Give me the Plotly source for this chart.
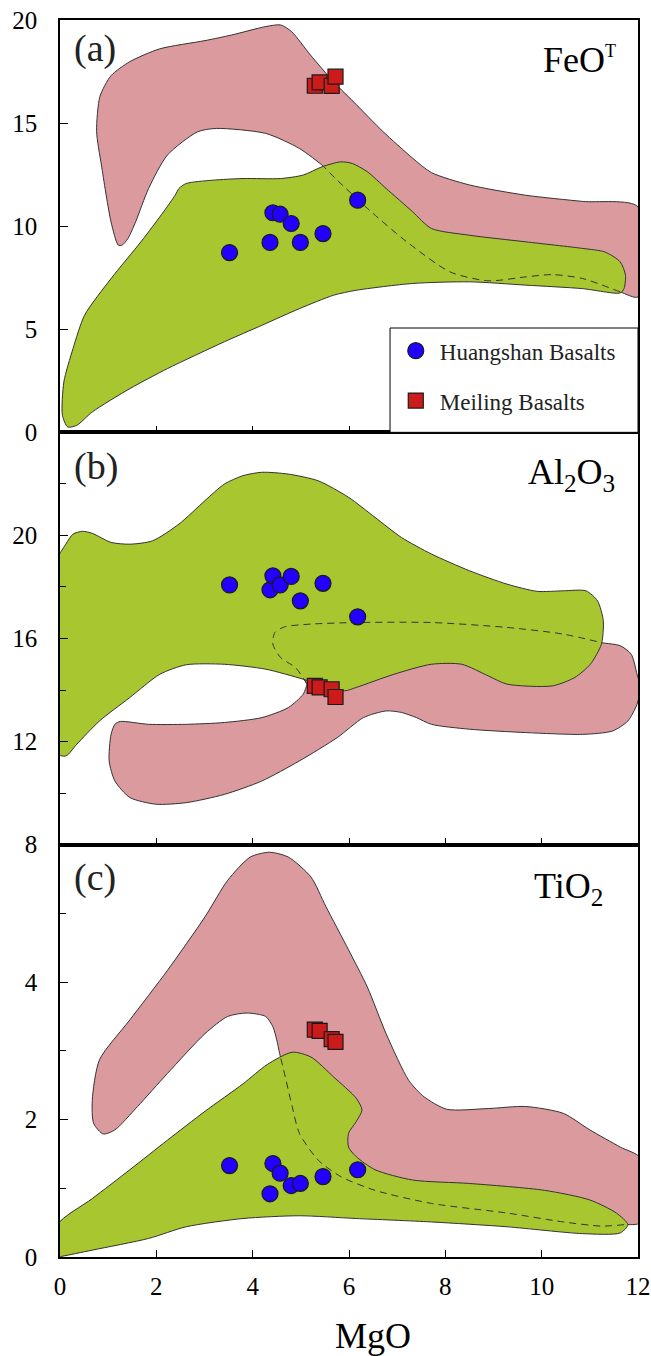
import plotly.graph_objects as go

# ---------------- data ----------------
# Huangshan basalts (circles)
MGO_HS = [3.52, 4.36, 4.42, 4.57, 4.80, 4.99, 5.46, 6.18]
FEOT_HS = [8.72, 9.21, 10.65, 10.58, 10.13, 9.21, 9.64, 11.26]
AL2O3_HS = [18.08, 17.89, 18.43, 18.08, 18.41, 17.46, 18.14, 16.84]
TIO2_HS = [1.33, 0.92, 1.36, 1.22, 1.04, 1.07, 1.17, 1.27]
# Meiling basalts (squares)
MGO_ML = [5.29, 5.39, 5.64, 5.72]
FEOT_ML = [16.81, 16.97, 16.80, 17.25]
AL2O3_ML = [14.16, 14.10, 14.03, 13.73]
TIO2_ML = [3.31, 3.29, 3.17, 3.13]

# ---- field boundaries (MgO, oxide) ----
# (a) FeOT : pink field = visible part 1 + hidden (dashed) part + visible part 2
FEO_PINK1_X = [1.21, 1.06, 0.86, 0.76, 0.83, 1.06, 1.45, 2.07, 3.01, 3.56, 4.27, 4.58, 4.81, 5.2, 5.68, 6.15, 6.7, 7.32, 7.71, 8.5, 9.67, 10.85, 12.0, 12.0]
FEO_PINK1_Y = [9.08, 10.2, 12.96, 14.6, 16.3, 17.3, 17.98, 18.6, 19.0, 19.27, 19.68, 19.76, 19.43, 18.3, 17.0, 15.9, 14.6, 13.3, 12.6, 12.0, 11.5, 11.2, 10.94, 6.57]
FEO_HIDDEN_X = [11.63, 10.85, 10.22, 9.67, 8.89, 8.1, 7.2, 6.46, 5.72, 5.48]
FEO_HIDDEN_Y = [6.81, 7.46, 7.65, 7.54, 7.35, 7.78, 9.24, 10.70, 12.31, 12.88]
FEO_PINK2_X = [4.97, 4.27, 3.25, 2.86, 2.23, 1.84, 1.57, 1.41, 1.29, 1.21]
FEO_PINK2_Y = [13.77, 14.5, 14.74, 14.58, 13.45, 11.83, 10.21, 9.40, 9.08, 9.08]
FEO_GREEN_X = [2.47, 2.62, 3.17, 3.8, 4.58, 5.05, 5.44, 5.83, 6.07, 6.38, 6.77, 7.32, 7.71, 8.5, 9.67, 10.85, 11.31, 11.63, 11.74, 11.71, 11.63, 10.85, 9.67, 8.5, 7.32, 6.15, 5.68, 4.97, 4.19, 3.41, 2.23, 1.45, 0.67, 0.35, 0.16, 0.05, 0.08, 0.27, 0.51, 1.06, 1.68, 2.15, 2.39, 2.47]
FEO_GREEN_Y = [11.83, 12.07, 12.23, 12.31, 12.31, 12.48, 12.88, 13.12, 13.04, 12.64, 11.83, 10.7, 9.89, 9.56, 9.24, 8.92, 8.75, 8.27, 7.62, 6.97, 6.76, 6.97, 7.14, 7.3, 7.22, 6.89, 6.65, 6.0, 5.19, 4.39, 3.09, 2.12, 0.99, 0.34, 0.26, 0.83, 2.44, 4.06, 5.68, 7.46, 9.24, 10.7, 11.5, 11.83]

# (b) Al2O3
AL_PINK1_X = [1.25, 1.84, 2.62, 3.41, 4.19, 4.74, 5.05, 5.13]
AL_PINK1_Y = [12.78, 12.67, 12.67, 12.74, 12.93, 13.32, 13.84, 14.23]
AL_HIDDEN_X = [5.13, 4.89, 4.58, 4.42, 4.46, 4.66, 5.21, 6.15, 7.71, 9.28, 10.45, 11.24]
AL_HIDDEN_Y = [14.23, 14.87, 15.26, 15.78, 16.23, 16.45, 16.56, 16.62, 16.62, 16.43, 16.17, 15.84]
AL_PINK2_X = [11.63, 11.86, 11.98, 12.05, 11.98, 11.79, 11.47, 10.85, 9.67, 8.5, 7.71, 7.4, 7.09, 6.77, 6.3, 5.76, 4.97, 4.19, 3.41, 2.62, 1.99, 1.45, 1.14, 1.02, 1.06, 1.14, 1.25]
AL_PINK2_Y = [15.72, 15.39, 14.61, 14.1, 13.45, 12.8, 12.41, 12.28, 12.35, 12.48, 12.67, 12.93, 13.13, 13.19, 12.93, 12.16, 11.25, 10.47, 9.95, 9.63, 9.57, 9.83, 10.47, 11.25, 12.28, 12.67, 12.78]
AL_GREEN_X = [-0.1, 0.12, 0.27, 0.47, 0.67, 1.06, 1.45, 1.92, 2.47, 3.01, 3.41, 3.8, 4.19, 4.74, 5.36, 5.99, 6.54, 7.09, 7.71, 8.5, 9.28, 9.91, 10.45, 10.92, 11.16, 11.28, 11.24, 11.01, 10.69, 10.22, 9.28, 8.89, 8.34, 7.71, 6.93, 6.15, 5.91, 5.36, 5.05, 4.27, 3.41, 2.62, 2.07, 1.45, 0.82, 0.35, 0.12, -0.1, -0.1]
AL_GREEN_Y = [18.89, 19.66, 20.05, 20.16, 20.08, 19.73, 19.66, 19.79, 20.44, 21.35, 21.99, 22.32, 22.45, 22.38, 22.12, 21.48, 20.7, 19.92, 19.28, 18.63, 18.11, 17.83, 17.85, 17.85, 17.46, 16.69, 15.78, 15.0, 14.49, 14.16, 14.23, 14.55, 15.0, 15.0, 14.61, 14.1, 13.97, 14.23, 14.42, 14.81, 15.0, 14.98, 14.61, 13.71, 12.8, 11.9, 11.44, 11.57, 18.89]

# (c) TiO2
TI_PINK1_X = [0.9, 0.7, 0.67, 0.82, 1.45, 2.23, 3.01, 3.48, 3.95, 4.35, 4.74, 5.21, 5.52, 5.99, 6.38, 6.77, 7.24, 7.56, 8.03, 8.89, 9.67, 10.45, 11.0, 11.63, 12.05, 12.05]
TI_PINK1_Y = [1.79, 1.94, 2.28, 2.87, 3.45, 4.17, 4.95, 5.48, 5.82, 5.89, 5.82, 5.53, 5.1, 4.47, 3.93, 3.25, 2.57, 2.33, 2.15, 2.16, 2.19, 2.09, 1.85, 1.6, 1.44, 0.5]
TI_HIDDEN_X = [11.71, 11.24, 10.45, 9.28, 7.71, 6.54, 5.83, 5.36, 4.97, 4.82, 4.66, 4.56]
TI_HIDDEN_Y = [0.47, 0.45, 0.51, 0.64, 0.78, 0.97, 1.17, 1.41, 1.8, 2.19, 2.67, 2.96]
TI_PINK2_X = [4.5, 4.42, 4.27, 3.88, 3.48, 3.01, 2.23, 1.61, 1.14, 0.9]
TI_PINK2_Y = [3.16, 3.35, 3.5, 3.55, 3.5, 3.25, 2.67, 2.19, 1.85, 1.79]
TI_GREEN_X = [-0.05, 0.67, 1.45, 2.23, 3.01, 3.8, 4.3, 4.82, 5.21, 5.68, 6.15, 6.27, 6.15, 5.99, 5.99, 6.15, 6.54, 7.32, 8.5, 10.06, 11.0, 11.55, 11.79, 11.63, 10.85, 9.28, 7.71, 6.15, 4.97, 3.8, 2.62, 1.84, 0.67, 0.04, -0.05, -0.05]
TI_GREEN_Y = [0.47, 0.85, 1.27, 1.70, 2.12, 2.52, 2.80, 2.98, 2.91, 2.62, 2.31, 2.14, 1.97, 1.8, 1.6, 1.46, 1.27, 1.12, 1.07, 0.97, 0.83, 0.64, 0.47, 0.35, 0.34, 0.44, 0.51, 0.56, 0.6, 0.56, 0.44, 0.27, 0.1, 0.01, 0.0, 0.47]

X_TICKS = [0, 2, 4, 6, 8, 10, 12]

# ---------------- styles ----------------
SERIF = "Liberation Serif, Times New Roman, serif"
PINK = "#db9a9e"
GREEN = "#a7c62f"
EDGE = "#333333"
BLUE = "#2200ff"
RED = "#cc1b1b"

fig = go.Figure()

panels = [
    ("x", "y", FEO_PINK1_X + FEO_HIDDEN_X + FEO_PINK2_X, FEO_PINK1_Y + FEO_HIDDEN_Y + FEO_PINK2_Y,
     FEO_GREEN_X, FEO_GREEN_Y, FEO_HIDDEN_X, FEO_HIDDEN_Y, FEOT_HS, FEOT_ML),
    ("x2", "y2", AL_PINK1_X + AL_HIDDEN_X + AL_PINK2_X, AL_PINK1_Y + AL_HIDDEN_Y + AL_PINK2_Y,
     AL_GREEN_X, AL_GREEN_Y, AL_HIDDEN_X, AL_HIDDEN_Y, AL2O3_HS, AL2O3_ML),
    ("x3", "y3", TI_PINK1_X + TI_HIDDEN_X + TI_PINK2_X, TI_PINK1_Y + TI_HIDDEN_Y + TI_PINK2_Y,
     TI_GREEN_X, TI_GREEN_Y, TI_HIDDEN_X, TI_HIDDEN_Y, TIO2_HS, TIO2_ML),
]

for i, (xa, ya, px, py, gx, gy, hx, hy, hs, ml) in enumerate(panels):
    fig.add_trace(go.Scatter(x=px, y=py, xaxis=xa, yaxis=ya, mode="lines", fill="toself",
                             fillcolor=PINK, line=dict(color=EDGE, width=1, shape="spline", smoothing=0.7),
                             hoverinfo="skip", showlegend=False))
    fig.add_trace(go.Scatter(x=gx, y=gy, xaxis=xa, yaxis=ya, mode="lines", fill="toself",
                             fillcolor=GREEN, line=dict(color=EDGE, width=1, shape="spline", smoothing=0.7),
                             hoverinfo="skip", showlegend=False))
    fig.add_trace(go.Scatter(x=hx, y=hy, xaxis=xa, yaxis=ya, mode="lines",
                             line=dict(color=EDGE, width=1, dash="7px,5px", shape="spline", smoothing=0.7),
                             hoverinfo="skip", showlegend=False))
    fig.add_trace(go.Scatter(x=MGO_HS, y=hs, xaxis=xa, yaxis=ya, mode="markers",
                             name="Huangshan Basalts", legendgroup="hs", showlegend=(i == 0),
                             marker=dict(symbol="circle", size=16, color=BLUE,
                                         line=dict(color="#1a1a1a", width=1.2))))
    fig.add_trace(go.Scatter(x=MGO_ML, y=ml, xaxis=xa, yaxis=ya, mode="markers",
                             name="Meiling Basalts", legendgroup="ml", showlegend=(i == 0),
                             marker=dict(symbol="square", size=15, color=RED,
                                         line=dict(color="#1a1a1a", width=1.2))))

axis_common = dict(showline=True, linecolor="black", linewidth=1.5, mirror=True, automargin=False,
                   showgrid=False, zeroline=False, ticks="inside", tickcolor="black",
                   ticklabeloverflow="allow",
                   tickwidth=1, tickfont=dict(family=SERIF, size=25, color="black"))

xa_common = dict(axis_common, range=[0, 12], tickvals=X_TICKS, ticklen=7)

# plot area at x 60-638, y 20-1257 of the 651x1356 page (body margin removed below)
fig.update_layout(
    width=651, height=1356,
    margin=dict(l=60, r=13, t=20, b=99, autoexpand=False),
    paper_bgcolor="white", plot_bgcolor="white",
    font=dict(family=SERIF, color="black"),
    xaxis=dict(xa_common, anchor="y", showticklabels=False),
    xaxis2=dict(xa_common, anchor="y2", showticklabels=False, matches="x"),
    xaxis3=dict(xa_common, anchor="y3", showticklabels=True, matches="x", ticklabelstandoff=6),
    yaxis=dict(axis_common, domain=[2 / 3, 1], range=[0, 20], tickvals=[0, 5, 10, 15, 20],
               ticklen=8, ticklabelstandoff=16, anchor="x"),
    yaxis2=dict(axis_common, domain=[1 / 3, 2 / 3], range=[8, 24], tickvals=[8, 12, 16, 20],
                ticklen=8, ticklabelstandoff=16, anchor="x2",
                minor=dict(ticks="inside", tickvals=[10, 14, 18, 22], ticklen=6, tickcolor="black", tickwidth=1)),
    yaxis3=dict(axis_common, domain=[0, 1 / 3], range=[0, 6], tickvals=[0, 2, 4],
                ticklen=8, ticklabelstandoff=16, anchor="x3",
                minor=dict(ticks="inside", tickvals=[1, 3, 5], ticklen=6, tickcolor="black", tickwidth=1)),
    showlegend=True,
    legend=dict(x=0.574, y=0.75, xanchor="left", yanchor="top", bgcolor="rgba(0,0,0,0)",
                borderwidth=0, font=dict(family=SERIF, size=23, color="#222"),
                traceorder="grouped", tracegroupgap=17, itemwidth=38),
    shapes=[dict(type="rect", xref="paper", yref="paper", x0=0.571, x1=1.0, y0=2 / 3, y1=0.751,
                 line=dict(color="black", width=1), fillcolor="white", layer="above")],
)

ann = []
for label, xr, yr, yy in [("(a)", "x domain", "y domain", 0.93),
                          ("(b)", "x2 domain", "y2 domain", 0.918),
                          ("(c)", "x3 domain", "y3 domain", 0.92)]:
    ann.append(dict(text=label, xref=xr, yref=yr, x=0.02, y=yy, xanchor="left", yanchor="middle",
                    showarrow=False, font=dict(family=SERIF, size=38, color="#222")))
ann.append(dict(text="FeO<sup><span style='font-size:18px'>T</span></sup>", xref="x domain", yref="y domain",
                x=0.965, y=0.903, xanchor="right", yanchor="middle", showarrow=False,
                font=dict(family=SERIF, size=36, color="black")))
ann.append(dict(text="Al<sub>2</sub>O<sub>3</sub>", xref="x2 domain", yref="y2 domain",
                x=0.963, y=0.898, xanchor="right", yanchor="middle", showarrow=False,
                font=dict(family=SERIF, size=36, color="black")))
ann.append(dict(text="TiO<sub>2</sub>", xref="x3 domain", yref="y3 domain",
                x=0.943, y=0.893, xanchor="right", yanchor="middle", showarrow=False,
                font=dict(family=SERIF, size=36, color="black")))
ann.append(dict(text="MgO", xref="paper", yref="paper", x=0.5415, y=-0.064, xanchor="center",
                yanchor="middle", showarrow=False, font=dict(family=SERIF, size=36, color="black")))
fig.update_layout(annotations=ann)

fig.write_html("out.html", config={"displayModeBar": False},
               post_script="document.body.style.margin='0';document.body.style.overflow='hidden';")
